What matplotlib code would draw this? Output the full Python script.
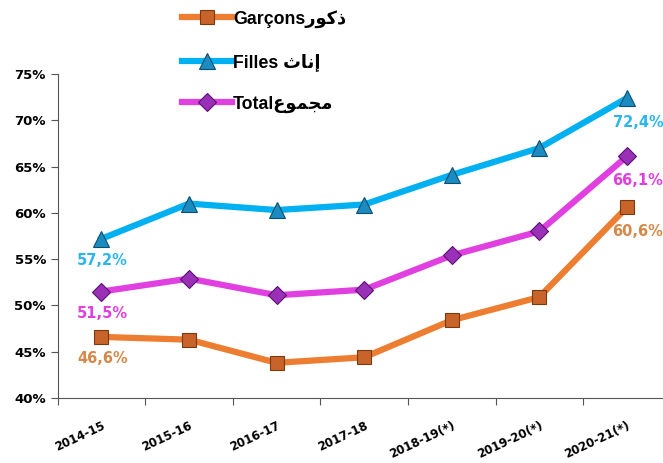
import numpy as np
import matplotlib
matplotlib.use("Agg")
import matplotlib.pyplot as plt
from matplotlib.ticker import PercentFormatter

years = ["2014-15", "2015-16", "2016-17", "2017-18", "2018-19(*)", "2019-20(*)", "2020-21(*)"]
garcons = [46.6, 46.3, 43.8, 44.4, 48.4, 50.9, 60.6]
filles = [57.2, 61.0, 60.3, 60.9, 64.1, 67.0, 72.4]
total = [51.5, 52.9, 51.1, 51.7, 55.4, 58.0, 66.1]

# arabic words in presentation forms, visual order
ar_garcons = "\uFEAD\uFEEE\uFEDB\uFEAB"
ar_filles = "\uFE99\uFE8E\uFEE7\uFE87"
ar_total = "\uFEC9\uFEEE\uFEE4\uFEA0\uFEE3"

fig = plt.figure(figsize=(6.63, 4.63), dpi=100)
ax = fig.add_axes([0.087, 0.1404, 0.9246, 0.6998])

x = np.arange(len(years))
l1, = ax.plot(x, garcons, color="#ED7D31", lw=4.5, marker="s", ms=9.5,
              mfc="#C8642A", mec="#7A3A10", mew=0.8, zorder=3)
l2, = ax.plot(x, filles, color="#00B0F0", lw=4.5, marker="^", ms=11,
              mfc="#1C8CC0", mec="#0B4F70", mew=0.8, zorder=3)
l3, = ax.plot(x, total, color="#E040E0", lw=4.5, marker="D", ms=9,
              mfc="#9A30B8", mec="#5A1070", mew=0.8, zorder=3)

lab_font = dict(fontsize=10.5, fontweight="bold", family="DejaVu Sans")
series = [(garcons, "#D4894A"), (filles, "#2BB5EE"), (total, "#E040E0")]
for vals, col in series:
    ax.annotate(f"{vals[0]:.1f}%".replace(".", ","), (x[0], vals[0]),
                xytext=(1, -22), textcoords="offset pixels",
                ha="center", va="center", color=col, **lab_font)
    ax.annotate(f"{vals[-1]:.1f}%".replace(".", ","), (x[-1], vals[-1]),
                xytext=(11, -24), textcoords="offset pixels",
                ha="center", va="center", color=col, **lab_font)

ax.set_xlim(-0.5, 6.5)
ax.set_ylim(40, 75)
ax.set_yticks(np.arange(40, 76, 5))
ax.yaxis.set_major_formatter(PercentFormatter(decimals=0))
ax.set_xticks(np.arange(-0.5, 7, 1))
ax.set_xticklabels([])
ax.set_xticks(x, minor=True)
ax.set_xticklabels(years, minor=True, rotation=25, ha="right",
                   rotation_mode="anchor", fontsize=8.5, fontweight="bold")
ax.tick_params(axis="x", which="minor", length=0, pad=15)
ax.tick_params(axis="x", which="major", length=5, direction="out", color="#555555")
ax.tick_params(axis="y", length=5, color="#555555", labelsize=9.5)
for t in ax.get_yticklabels():
    t.set_fontweight("bold")
for s in ["top", "right"]:
    ax.spines[s].set_visible(False)
for s in ["left", "bottom"]:
    ax.spines[s].set_color("#555555")

fig.legend([l1, l2, l3],
           ["Garçons" + ar_garcons, "Filles " + ar_filles, "Total" + ar_total],
           loc="upper left", bbox_to_anchor=(0.25, 1.013), frameon=False,
           prop={"family": ["Liberation Sans", "DejaVu Sans"], "weight": "bold", "size": 12.8},
           labelspacing=1.4, handlelength=2.8, handletextpad=0.08)

fig.savefig("out.png", dpi=100)
